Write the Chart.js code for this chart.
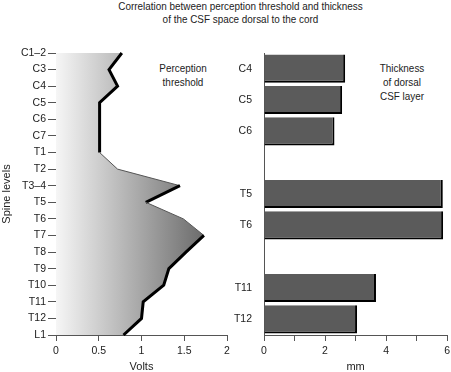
<!DOCTYPE html>
<html>
<head>
<meta charset="utf-8">
<script src="https://cdn.jsdelivr.net/npm/chart.js@4"></script>
<style>
  html, body { margin: 0; padding: 0; background: #fff; overflow: hidden; }
  body { width: 451px; height: 372px; position: relative;
         font-family: 'Liberation Sans', Arial, sans-serif; color: #222; }
  .txt { position: absolute; text-align: center; font-size: 11px; line-height: 14px;
         transform: scaleX(0.9); transform-origin: center top; }
  #left { position: absolute; left: 0; top: 0; }
  #right { position: absolute; left: 232px; top: 0; }
</style>
</head>
<body>
<div class="txt" style="left:15px;width:451px;top:0px;line-height:12.5px;">Correlation between perception threshold and thickness<br>of the CSF space dorsal to the cord</div>
<div class="txt" style="left:133px;width:100px;top:61px;">Perception<br>threshold</div>
<div class="txt" style="left:352px;width:100px;top:61px;">Thickness<br>of dorsal<br>CSF layer</div>
<canvas id="left" width="235" height="376"></canvas>
<canvas id="right" width="222" height="376"></canvas>
<script>
// perception threshold (volts) per spine level
const spineLevels = ['C1–2', 'C3', 'C4', 'C5', 'C6', 'C7', 'T1', 'T2', 'T3–4', 'T5',
                     'T6', 'T7', 'T8', 'T9', 'T10', 'T11', 'T12', 'L1'];
const thresholdVolts = [0.77, 0.62, 0.72, 0.51, 0.51, 0.51, 0.51, 0.72, 1.45, 1.05,
                        1.49, 1.73, 1.52, 1.32, 1.26, 1.02, 1.0, 0.79];

// thickness of dorsal CSF layer (mm), blank slots are gaps
const csfLevels = ['C4', 'C5', 'C6', '', 'T5', 'T6', '', 'T11', 'T12'];
const csfThickness = [2.66, 2.56, 2.31, null, 5.86, 5.87, null, 3.67, 3.05];

const voltTicks = [0, 0.5, 1, 1.5, 2];
const mmLabels = [0, 2, 4, 6];

Chart.defaults.font.family = "'Liberation Sans', Arial, sans-serif";
Chart.defaults.font.size = 10.5;
Chart.defaults.color = '#222';

const axisColor = '#555';

// left: shaded area plus outline drawn as two datasets (avoids seams in the fill)
new Chart(document.getElementById('left'), {
    type: 'line',
    data: {
        labels: spineLevels,
        datasets: [{
            data: thresholdVolts,
            fill: false,
            pointRadius: 0,
            tension: 0,
            borderColor: '#000',
            borderWidth: 3,
            segment: {
                // rising edges are drawn thin, the rest with the heavy outline
                borderWidth: c => (c.p1.parsed.x - c.p0.parsed.x > 0.15 ? 1 : 3),
                borderColor: c => (c.p1.parsed.x - c.p0.parsed.x > 0.15 ? '#555' : '#000')
            }
        }, {
            data: thresholdVolts,
            fill: 'origin',
            pointRadius: 0,
            tension: 0,
            borderWidth: 0,
            borderColor: 'rgba(0,0,0,0)',
            backgroundColor: function (ctx) {
                const area = ctx.chart.chartArea;
                if (!area) return '#ccc';
                const g = ctx.chart.ctx.createLinearGradient(area.left, 0, area.right, 0);
                g.addColorStop(0, '#f6f6f6');
                g.addColorStop(1, '#565656');
                return g;
            }
        }]
    },
    options: {
        indexAxis: 'y',
        responsive: false,
        animation: false,
        layout: { padding: { top: 53, right: 8, left: 0, bottom: 0 } },
        plugins: { legend: { display: false }, tooltip: { enabled: false } },
        scales: {
            y: {
                type: 'category',
                offset: false,
                grid: { display: true, drawOnChartArea: false, tickLength: 8, color: axisColor },
                border: { display: true, color: axisColor, width: 1 },
                ticks: { padding: 2, autoSkip: false },
                title: { display: true, text: 'Spine levels', padding: 0, font: { size: 11 } },
                afterFit: s => { s.width = 56; }
            },
            x: {
                type: 'linear',
                min: 0, max: 2,
                afterBuildTicks: s => { s.ticks = voltTicks.map(v => ({ value: v })); },
                grid: { display: true, drawOnChartArea: false, tickLength: 6, color: axisColor },
                border: { display: true, color: axisColor, width: 1 },
                ticks: { padding: 4, callback: v => String(v) },
                title: { display: true, text: 'Volts', padding: { top: 0, bottom: 2 }, font: { size: 11 } },
                afterFit: s => { s.height = 41; }
            }
        }
    }
});

// right: bars
new Chart(document.getElementById('right'), {
    type: 'bar',
    data: {
        labels: csfLevels,
        datasets: [{
            data: csfThickness,
            backgroundColor: '#5b5b5b',
            borderColor: '#000',
            borderSkipped: false,
            borderWidth: { top: 0, left: 0, right: 2, bottom: 2 },
            categoryPercentage: 1,
            barPercentage: 0.9
        }]
    },
    options: {
        indexAxis: 'y',
        responsive: false,
        animation: false,
        layout: { padding: { top: 53, right: 6, left: 0, bottom: 0 } },
        plugins: { legend: { display: false }, tooltip: { enabled: false } },
        scales: {
            y: {
                type: 'category',
                grid: { display: false },
                border: { display: true, color: axisColor, width: 1 },
                ticks: { padding: 4, autoSkip: false },
                afterFit: s => { s.width = 32; }
            },
            x: {
                type: 'linear',
                min: 0, max: 6,
                ticks: {
                    stepSize: 1, padding: 4,
                    callback: v => (mmLabels.includes(v) ? v : '')
                },
                grid: { display: true, drawOnChartArea: false, tickLength: 6, color: axisColor },
                border: { display: true, color: axisColor, width: 1 },
                title: { display: true, text: 'mm', padding: { top: 0, bottom: 2 }, font: { size: 11 } },
                afterFit: s => { s.height = 41; }
            }
        }
    }
});
</script>
</body>
</html>
